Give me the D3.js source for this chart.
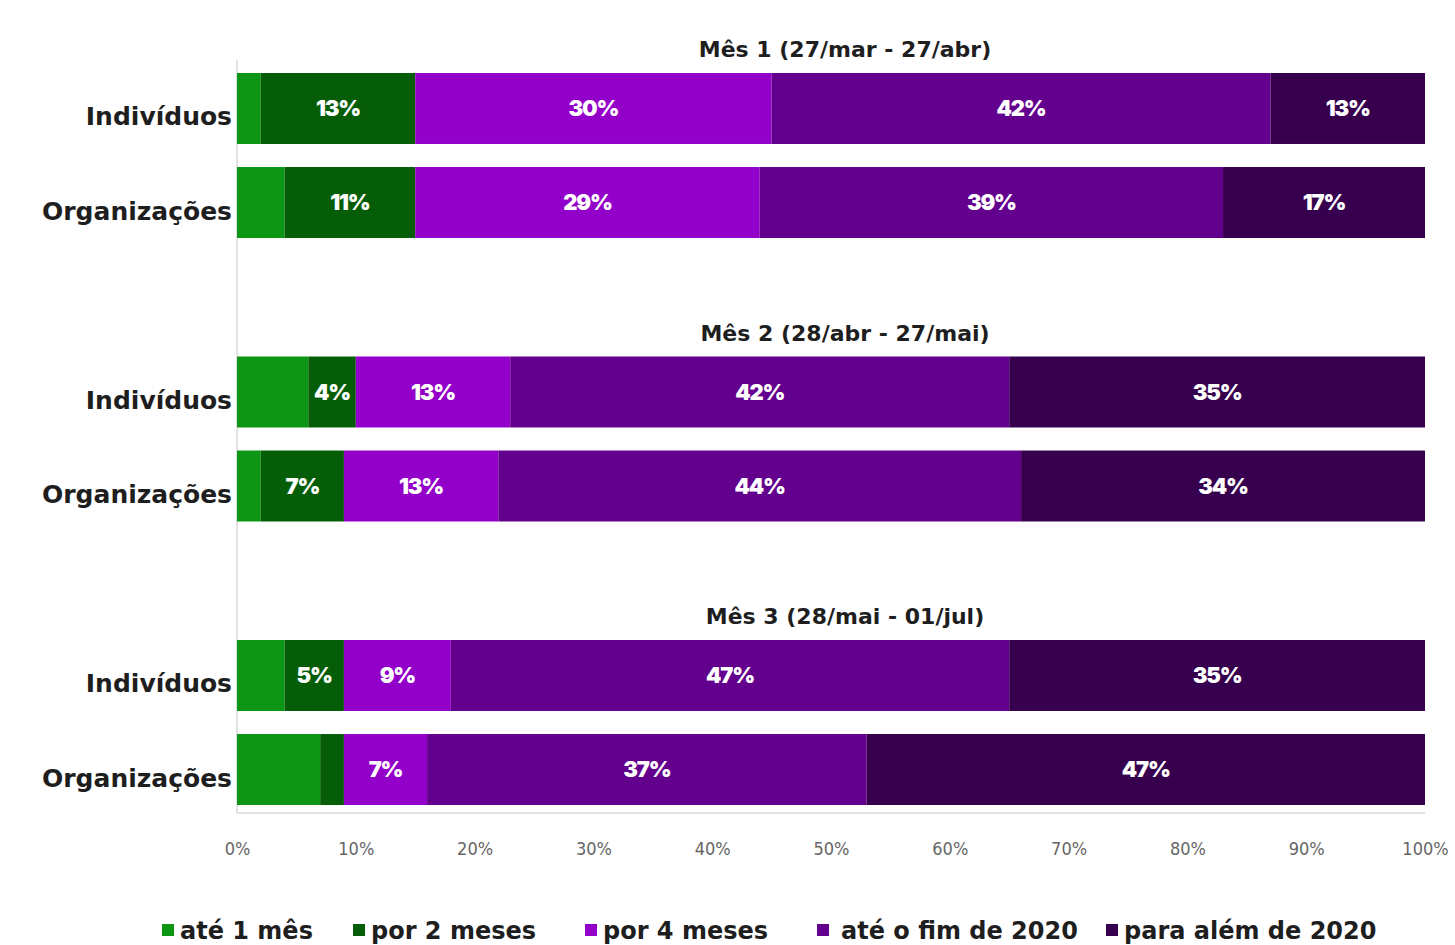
<!DOCTYPE html>
<html>
<head>
<meta charset="utf-8">
<script src="https://cdn.jsdelivr.net/npm/d3@7"></script>
<style>
  html, body { margin: 0; padding: 0; background: #ffffff; }
  svg { display: block; }
</style>
</head>
<body>
<svg id="chart" width="1455" height="945"></svg>
<script>
// Duração esperada das medidas, por período e tipo de respondente
const periods = ["Mês 1 (27/mar - 27/abr)", "Mês 2 (28/abr - 27/mai)", "Mês 3 (28/mai - 01/jul)"];
const respondents = ["Indivíduos", "Organizações"];
const seriesNames = ["até 1 mês", "por 2 meses", "por 4 meses", "até o fim de 2020", "para além de 2020"];
const seriesColors = ["#0d9614", "#055e07", "#9300c9", "#63008d", "#37004e"];

// percentages per row, in the order of seriesNames
const mes1Individuos    = [2, 13, 30, 42, 13];
const mes1Organizacoes  = [4, 11, 29, 39, 17];
const mes2Individuos    = [6, 4, 13, 42, 35];
const mes2Organizacoes  = [2, 7, 13, 44, 34];
const mes3Individuos    = [4, 5, 9, 47, 35];
const mes3Organizacoes  = [7, 2, 7, 37, 47];

// which segments carry a value label
const labelledMes1Individuos   = [false, true, true, true, true];
const labelledMes1Organizacoes = [false, true, true, true, true];
const labelledMes2Individuos   = [false, true, true, true, true];
const labelledMes2Organizacoes = [false, true, true, true, true];
const labelledMes3Individuos   = [false, true, true, true, true];
const labelledMes3Organizacoes = [false, false, true, true, true];

const tickValues = [0, 10, 20, 30, 40, 50, 60, 70, 80, 90, 100];

const rows = [
  { period: periods[0], who: respondents[0], values: mes1Individuos,   labelled: labelledMes1Individuos },
  { period: periods[0], who: respondents[1], values: mes1Organizacoes, labelled: labelledMes1Organizacoes },
  { period: periods[1], who: respondents[0], values: mes2Individuos,   labelled: labelledMes2Individuos },
  { period: periods[1], who: respondents[1], values: mes2Organizacoes, labelled: labelledMes2Organizacoes },
  { period: periods[2], who: respondents[0], values: mes3Individuos,   labelled: labelledMes3Individuos },
  { period: periods[2], who: respondents[1], values: mes3Organizacoes, labelled: labelledMes3Organizacoes }
];

const svg = d3.select("#chart");
const FONT = "'DejaVu Sans', Inter, sans-serif";
const NUM_FONT = "Inter, 'Open Sans', sans-serif";

const x = d3.scaleLinear().domain([0, 100]).range([237, 1425]);
const yGroup = d3.scaleBand().domain(periods).range([73, 805]).paddingInner(0.418).paddingOuter(0);
const yRow = d3.scaleBand().domain(respondents).range([0, yGroup.bandwidth()]).paddingInner(0.245).paddingOuter(0);

// stacked segments per row
const segs = [];
rows.forEach(r => {
  let acc = 0;
  r.values.forEach((v, i) => {
    segs.push({ row: r, i, x0: acc, x1: acc + v, v, labelled: r.labelled[i] });
    acc += v;
  });
});

const rowY = r => yGroup(r.period) + yRow(r.who);
const bh = yRow.bandwidth();

// axis frame lines
svg.append("line")
  .attr("x1", x(0)).attr("x2", x(0))
  .attr("y1", 60).attr("y2", 813)
  .attr("stroke", "#d9d9d9").attr("stroke-width", 1.5);
svg.append("line")
  .attr("x1", x(0)).attr("x2", x(100))
  .attr("y1", 813).attr("y2", 813)
  .attr("stroke", "#d9d9d9").attr("stroke-width", 1.5);

// bars
svg.append("g").selectAll("rect").data(segs).join("rect")
  .attr("x", d => x(d.x0))
  .attr("width", d => x(d.x1) - x(d.x0))
  .attr("y", d => rowY(d.row))
  .attr("height", bh)
  .attr("fill", d => seriesColors[d.i]);

// value labels
svg.append("g").selectAll("text").data(segs.filter(d => d.labelled)).join("text")
  .attr("x", d => x((d.x0 + d.x1) / 2))
  .attr("y", d => rowY(d.row) + bh / 2)
  .attr("dy", "0.36em")
  .attr("text-anchor", "middle")
  .attr("fill", "#ffffff")
  .attr("font-family", NUM_FONT)
  .attr("font-weight", 900)
  .attr("font-size", 22)
  .attr("letter-spacing", -1.2)
  .text(d => d.v + "%");

// respondent labels
svg.append("g").selectAll("text").data(rows).join("text")
  .attr("x", 232)
  .attr("y", d => rowY(d) + bh / 2 + 8)
  .attr("dy", "0.36em")
  .attr("text-anchor", "end")
  .attr("fill", "#1e1e1e")
  .attr("font-family", FONT)
  .attr("font-weight", 700)
  .attr("font-size", 25)
  .text(d => d.who);

// period titles
svg.append("g").selectAll("text").data(periods).join("text")
  .attr("x", 845)
  .attr("y", d => yGroup(d) - 16)
  .attr("text-anchor", "middle")
  .attr("fill", "#1e1e1e")
  .attr("font-family", FONT)
  .attr("font-weight", 700)
  .attr("font-size", 22)
  .text(d => d);

// x axis
const xAxis = d3.axisBottom(x).tickValues(tickValues).tickFormat(d => d + "%").tickSize(0).tickPadding(0);
const ax = svg.append("g").attr("transform", "translate(0,842)").call(xAxis);
ax.select(".domain").remove();
ax.selectAll("text")
  .attr("fill", "#666666")
  .attr("font-family", "'Liberation Sans Narrow', 'Arial Narrow', 'DejaVu Sans Condensed', sans-serif")
  .attr("font-size", 18);

// legend
const legendX = [162, 353, 585, 817, 1106];
const legend = svg.append("g").selectAll("g").data(seriesNames).join("g")
  .attr("transform", (d, i) => `translate(${legendX[i]},930)`);
legend.append("rect")
  .attr("x", 0).attr("y", -6).attr("width", 12).attr("height", 12)
  .attr("fill", (d, i) => seriesColors[i]);
legend.append("text")
  .attr("x", (d, i) => i === 3 ? 24 : 18)
  .attr("dy", "0.36em")
  .attr("fill", "#1e1e1e")
  .attr("font-family", FONT)
  .attr("font-weight", 700)
  .attr("font-size", 24)
  .text(d => d);
</script>
</body>
</html>
